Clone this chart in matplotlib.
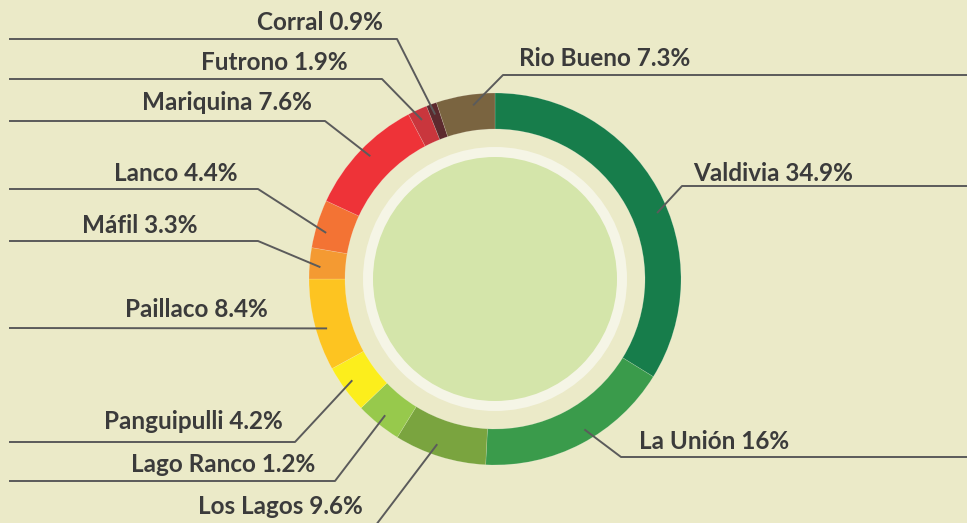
import matplotlib
matplotlib.use("Agg")
import matplotlib.pyplot as plt
from matplotlib.patches import Circle
import numpy as np

# ---- data ----
names = ["Valdivia", "La Unión", "Los Lagos", "Lago Ranco", "Panguipulli", "Paillaco",
         "Máfil", "Lanco", "Mariquina", "Futrono", "Corral", "Rio Bueno"]
label_pct = ["34.9%", "16%", "9.6%", "1.2%", "4.2%", "8.4%",
             "3.3%", "4.4%", "7.6%", "1.9%", "0.9%", "7.3%"]
# arc shares as drawn in the picture
arc_share = [33.8, 17.0, 8.0, 4.0, 4.2, 8.0, 2.7, 4.2, 10.4, 1.7, 0.9, 5.1]
colors = ["#177d4b", "#3a9b4b", "#7aa43f", "#97c94c", "#fcee1c", "#fdc421",
          "#f49a32", "#f37334", "#ee3338", "#c9363d", "#5c2a2e", "#7a6440"]

# ---- layout (pixel space) ----
W, H = 967, 523
cx, cy, R, ring_w = 495, 279, 186, 36
BG = "#ebeac8"
# per label: side, horizontal line y, elbow x, text anchor x, text baseline y, anchor angle nudge
layout = {
    "Valdivia":    ("R", 186, 682, 693, 181, 7),
    "La Unión":    ("R", 457, 621, 639, 449, -3),
    "Los Lagos":   ("L", 546, 360, 363, 514, 2),
    "Lago Ranco":  ("L", 481, 335, 315, 472, 0),
    "Panguipulli": ("L", 442, 295, 283, 429, 1),
    "Paillaco":    ("L", 328, None, 268, 317, -2),
    "Máfil":       ("L", 241, 258, 197, 233, -1),
    "Lanco":       ("L", 189, 258, 237, 181, -2),
    "Mariquina":   ("L", 121, 325, 312, 110, 1),
    "Futrono":     ("L", 79, 382, 348, 70, 0),
    "Corral":      ("L", 39, 397, 383, 30, 0),
    "Rio Bueno":   ("R", 75, 503, 519, 66, 2),
}

fig = plt.figure(figsize=(W / 100, H / 100), dpi=100)
fig.patch.set_facecolor(BG)
ax = fig.add_axes([0, 0, 1, 1])
ax.set_facecolor(BG)

wedges, _ = ax.pie(arc_share, colors=colors, radius=R, center=(cx, cy),
                   startangle=-90, counterclock=True,
                   wedgeprops=dict(width=ring_w, linewidth=0.4, edgecolor=(1, 1, 1, 0.25)))
ax.set_xlim(0, W)
ax.set_ylim(H, 0)
ax.set_aspect("equal")
ax.axis("off")

ax.add_patch(Circle((cx, cy), 132, facecolor="#f5f5e6", edgecolor="none", zorder=3))
ax.add_patch(Circle((cx, cy), 122, facecolor="#d4e5aa", edgecolor="none", zorder=4))

total = sum(arc_share)
cum = 0.0
line_col = "#5b5b5b"
for name, pct, share in zip(names, label_pct, arc_share):
    side, ly, ex, tx, ty, nudge = layout[name]
    mid = (cum + share / 2) / total * 360.0 + nudge
    cum += share
    th = np.deg2rad(mid)
    r0 = 175
    sx, sy = cx + r0 * np.sin(th), cy - r0 * np.cos(th)
    if side == "L":
        if ex is None:
            xs, ys = [sx, 9], [sy, ly]
        else:
            xs, ys = [sx, ex, 9], [sy, ly, ly]
        ha = "right"
    else:
        xs, ys = [sx, ex, W], [sy, ly, ly]
        ha = "left"
    ax.plot(xs, ys, color=line_col, lw=1.4, zorder=5, solid_capstyle="butt")
    ax.text(tx, ty, f"{name} {pct}", ha=ha, va="baseline", fontsize=17.5,
            fontweight="bold", family=["Lato", "DejaVu Sans"], color="#3b3b3b", zorder=6)

fig.savefig("out.png", dpi=100, facecolor=BG)
